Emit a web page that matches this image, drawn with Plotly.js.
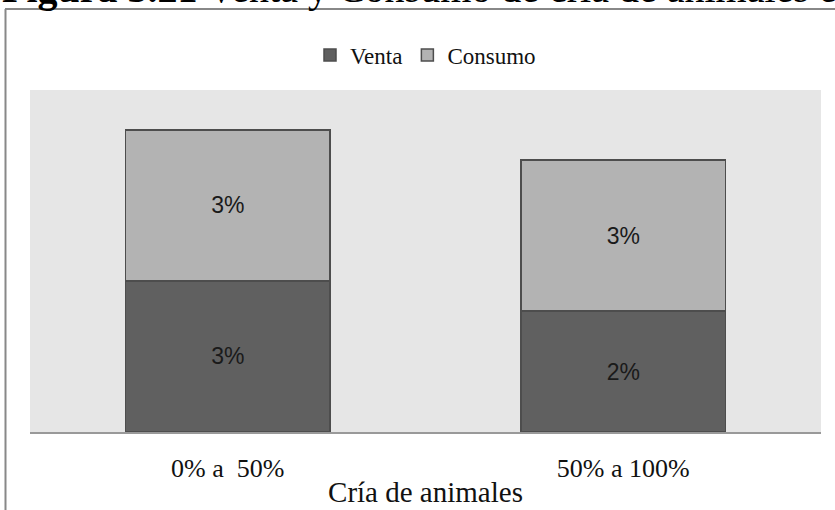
<!DOCTYPE html>
<html>
<head>
<meta charset="utf-8">
<script src="https://cdn.plot.ly/plotly-3.0.1.min.js"></script>
<style>html,body{margin:0;padding:0;background:#fff;}#chart{width:835px;height:510px;}</style>
</head>
<body>
<div id="chart"></div>
<script>
var categories = ['0% a \u00a050%', '50% a 100%'];
var venta = [2.5, 2.0];
var consumo = [2.5, 2.5];
var seriesNames = ['Venta', 'Consumo'];
var titleText = '<b>Figura 3.21</b> Venta y Consumo de cría de animales en';
var xTitle = 'Cría de animales';

function pct(v){ return Math.round(v) + '%'; }

var W = 835, H = 510;
var L = 30, R = 14, T = 90, B = 78;
var pw = W - L - R, ph = H - T - B;
function px(x){ return (x - L) / pw; }
function py(y){ return (H - B - y) / ph; }

var serif = 'Liberation Serif, DejaVu Serif, serif';
var sans = 'Liberation Sans, Arial, sans-serif';

var traces = [
  {type:'bar', name: seriesNames[0], x: categories, y: venta,
   text: venta.map(pct), textposition:'inside', insidetextanchor:'middle',
   textfont:{family:sans, size:23, color:'#1a1a1a'},
   marker:{color:'#606060', line:{color:'#4d4d4d', width:1.5}}, hoverinfo:'skip'},
  {type:'bar', name: seriesNames[1], x: categories, y: consumo,
   text: consumo.map(pct), textposition:'inside', insidetextanchor:'middle',
   textfont:{family:sans, size:23, color:'#1a1a1a'},
   marker:{color:'#b3b3b3', line:{color:'#4d4d4d', width:1.5}}, hoverinfo:'skip'}
];

var layout = {
  width: W, height: H,
  margin:{l:L, r:R, t:T, b:B, pad:0},
  paper_bgcolor:'#ffffff', plot_bgcolor:'#e6e6e6',
  barmode:'stack', bargap:0.484,
  showlegend:true,
  legend:{orientation:'h', x:0.5, xanchor:'center', y: py(55), yanchor:'middle',
          font:{family:serif, size:23, color:'#111'}, traceorder:'normal',
          itemwidth:30, bgcolor:'rgba(0,0,0,0)'},
  xaxis:{type:'category', showline:true, linecolor:'#999999', linewidth:1.5,
         ticks:'', tickfont:{family:serif, size:26, color:'#111'},
         ticklabelstandoff:12, showgrid:false, zeroline:false, fixedrange:true,
         title:{text:xTitle, font:{family:serif, size:29, color:'#111'}, standoff:0}},
  yaxis:{range:[0, 5.66], visible:false, showgrid:false, zeroline:false, fixedrange:true},
  uniformtext:{mode:'show', minsize:10},
  shapes:[
    {type:'line', xref:'paper', yref:'paper', x0:px(5.5), x1:px(5.5), y0:py(9), y1:py(515), line:{color:'#888888', width:2}},
    {type:'line', xref:'paper', yref:'paper', x0:px(5), x1:px(840), y0:py(9), y1:py(9), line:{color:'#888888', width:2}}
  ],
  annotations:[
    {xref:'paper', yref:'paper', x:px(0), xanchor:'left', y:py(13), yanchor:'bottom',
     text:titleText, showarrow:false, font:{family:serif, size:40, color:'#000'}}
  ]
};

Plotly.newPlot('chart', traces, layout, {displayModeBar:false, staticPlot:true});
</script>
</body>
</html>
